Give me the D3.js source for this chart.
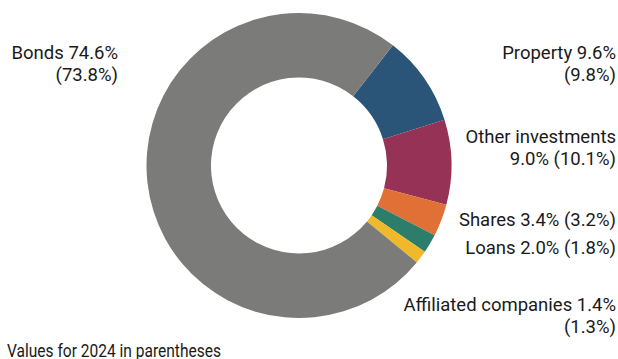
<!DOCTYPE html>
<html>
<head>
<meta charset="utf-8">
<script src="https://cdn.jsdelivr.net/npm/d3@7"></script>
<style>
  html, body { margin: 0; padding: 0; background: #fff; }
  svg text { font-family: Roboto, "Noto Sans", sans-serif; fill: #1a1a1a; }
</style>
</head>
<body>
<div id="chart"></div>
<script>
// data (share of investments, 2025 with 2024 in parentheses)
var categories = ["Property", "Other investments", "Shares", "Loans", "Affiliated companies", "Bonds"];
var values2025 = [9.6, 9.0, 3.4, 2.0, 1.4, 74.6];
var values2024 = [9.8, 10.1, 3.2, 1.8, 1.3, 73.8];
var colors = ["#2a5478", "#953255", "#e07035", "#2c7d6a", "#f0b92c", "#7b7c7a"];
var footnote = "Values for 2024 in parentheses";

var W = 618, H = 359;
var cx = 299, cy = 165.5, outerR = 152.5, innerR = 88;
var startDeg = 38; // first slice begins right of top

var fmt = function(v) { return v.toFixed(1) + "%"; };

// label text layouts
function twoLines(i) { return [categories[i] + " " + fmt(values2025[i]), "(" + fmt(values2024[i]) + ")"]; }
function nameFirst(i) { return [categories[i], fmt(values2025[i]) + " (" + fmt(values2024[i]) + ")"]; }
function oneLine(i) { return [categories[i] + " " + fmt(values2025[i]) + " (" + fmt(values2024[i]) + ")"]; }

// label placement: anchor x, first baseline
var labels = [
  { x: 616, y: 59, lines: twoLines },
  { x: 616, y: 143, lines: nameFirst },
  { x: 616, y: 226, lines: oneLine },
  { x: 616, y: 254, lines: oneLine },
  { x: 616, y: 311, lines: twoLines },
  { x: 118, y: 59, lines: twoLines }
];
var lineH = 22;

var svg = d3.select("#chart").append("svg")
    .attr("width", W)
    .attr("height", H)
    .attr("viewBox", "0 0 " + W + " " + H);

var start = startDeg * Math.PI / 180;
var pie = d3.pie()
    .sort(null)
    .value(function(d) { return d; })
    .startAngle(start)
    .endAngle(start + 2 * Math.PI);

var arc = d3.arc()
    .innerRadius(innerR)
    .outerRadius(outerR);

var g = svg.append("g").attr("transform", "translate(" + cx + "," + cy + ")");

g.selectAll("path.slice")
    .data(pie(values2025))
    .enter()
    .append("path")
    .attr("class", "slice")
    .attr("d", arc)
    .attr("fill", function(d, i) { return colors[i]; });

// labels
var lbl = svg.append("g").attr("class", "labels");
categories.forEach(function(c, i) {
    var L = labels[i];
    var t = lbl.append("text")
        .attr("x", L.x)
        .attr("y", L.y)
        .attr("text-anchor", "end")
        .style("font-size", "18.5px");
    L.lines(i).forEach(function(line, k) {
        t.append("tspan")
            .attr("x", L.x)
            .attr("dy", k === 0 ? 0 : lineH)
            .text(line);
    });
});

// footnote (condensed)
svg.append("text")
    .attr("x", 7)
    .attr("y", 356.5)
    .attr("textLength", 214)
    .attr("lengthAdjust", "spacingAndGlyphs")
    .style("font-size", "17.5px")
    .text(footnote);
</script>
</body>
</html>
